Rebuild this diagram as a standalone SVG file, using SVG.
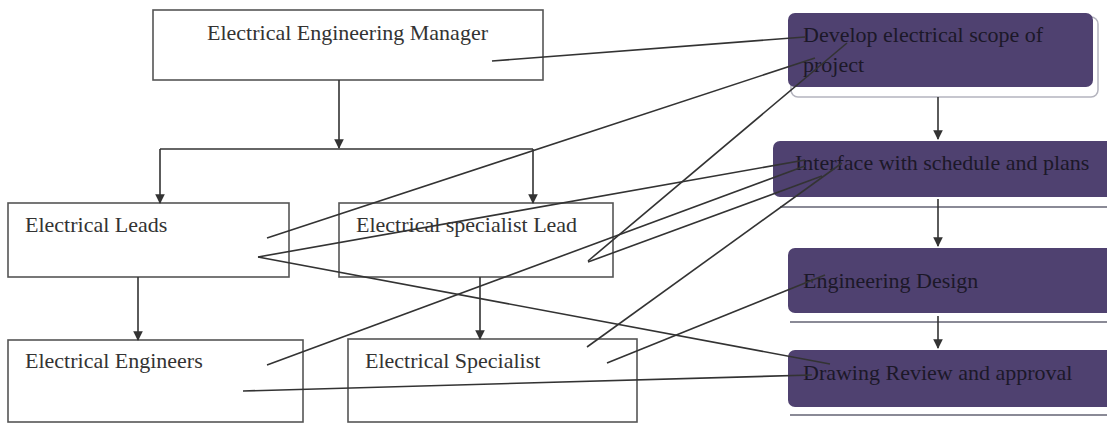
<svg xmlns="http://www.w3.org/2000/svg" width="1107" height="424" viewBox="0 0 1107 424">
  <style>
    .box { fill: #ffffff; stroke: #555555; stroke-width: 1.6; }
    .lbl { font-family: "Liberation Serif", "Times New Roman", serif; font-size: 22px; fill: #333333; }
    .pbox { fill: #4f4170; }
    .plbl { font-family: "Liberation Serif", "Times New Roman", serif; font-size: 22px; fill: #1c1828; }
    .sep { stroke: #8a8a96; stroke-width: 2; }
    .ln { stroke: #333333; stroke-width: 1.6; fill: none; }
    .arr { stroke: #333333; stroke-width: 1.6; fill: none; marker-end: url(#ah); }
  </style>
  <defs>
    <marker id="ah" viewBox="0 0 10 10" refX="9" refY="5" markerWidth="6" markerHeight="6" orient="auto">
      <path d="M0,0 L10,5 L0,10 z" fill="#333333"/>
    </marker>
  </defs>
  <rect width="1107" height="424" fill="#ffffff"/>

  <g id="manager">
    <rect class="box" x="153" y="10" width="390" height="70"/>
    <text class="lbl" x="207" y="40">Electrical Engineering Manager</text>
  </g>
  <g id="leads">
    <rect class="box" x="8" y="203" width="281" height="74"/>
    <text class="lbl" x="25" y="232">Electrical Leads</text>
  </g>
  <g id="specialist-lead">
    <rect class="box" x="339" y="203" width="274" height="74"/>
    <text class="lbl" x="356" y="232">Electrical specialist Lead</text>
  </g>
  <g id="engineers">
    <rect class="box" x="8" y="340" width="295" height="82"/>
    <text class="lbl" x="25" y="368">Electrical Engineers</text>
  </g>
  <g id="specialist">
    <rect class="box" x="348" y="339" width="289" height="83"/>
    <text class="lbl" x="365" y="368">Electrical Specialist</text>
  </g>

  <g id="develop">
    <rect x="791" y="17" width="307" height="80" rx="7" fill="#ffffff" stroke="#b4b4be" stroke-width="1.5"/>
    <rect class="pbox" x="788" y="13" width="305" height="74" rx="7"/>
    <text class="plbl" x="803" y="42">Develop electrical scope of</text>
    <text class="plbl" x="803" y="72">project</text>
  </g>
  <g id="interface">
    <line class="sep" x1="780" y1="207" x2="1107" y2="207"/>
    <rect class="pbox" x="773" y="141" width="345" height="56" rx="7"/>
    <text class="plbl" x="795" y="170">Interface with schedule and plans</text>
  </g>
  <g id="design">
    <line class="sep" x1="790" y1="322" x2="1107" y2="322"/>
    <rect class="pbox" x="788" y="248" width="330" height="65" rx="7"/>
    <text class="plbl" x="803" y="288">Engineering Design</text>
  </g>
  <g id="review">
    <line class="sep" x1="790" y1="415" x2="1107" y2="415"/>
    <rect class="pbox" x="788" y="350" width="330" height="57" rx="7"/>
    <text class="plbl" x="803" y="380">Drawing Review and approval</text>
  </g>

  <g id="connectors">
    <line class="arr" x1="339" y1="80" x2="339" y2="148"/>
    <line class="ln" x1="160" y1="149" x2="533" y2="149"/>
    <line class="arr" x1="160" y1="149" x2="160" y2="203"/>
    <line class="arr" x1="533" y1="149" x2="533" y2="203"/>
    <line class="arr" x1="138" y1="277" x2="138" y2="340"/>
    <line class="arr" x1="480" y1="277" x2="480" y2="339"/>
    <line class="arr" x1="938" y1="97" x2="938" y2="139"/>
    <line class="arr" x1="938" y1="199" x2="938" y2="246"/>
    <line class="arr" x1="938" y1="316" x2="938" y2="348"/>
    <line class="ln" x1="492" y1="61" x2="805" y2="37"/>
    <line class="ln" x1="267" y1="238" x2="815" y2="58"/>
    <line class="ln" x1="258" y1="257" x2="805" y2="160"/>
    <line class="ln" x1="258" y1="257" x2="830" y2="364"/>
    <line class="ln" x1="588" y1="261" x2="847" y2="43"/>
    <line class="ln" x1="588" y1="262" x2="822" y2="176"/>
    <line class="ln" x1="267" y1="365" x2="805" y2="166"/>
    <line class="ln" x1="243" y1="391" x2="812" y2="375"/>
    <line class="ln" x1="587" y1="347" x2="842" y2="163"/>
    <line class="ln" x1="607" y1="363" x2="825" y2="275"/>
  </g>
</svg>
